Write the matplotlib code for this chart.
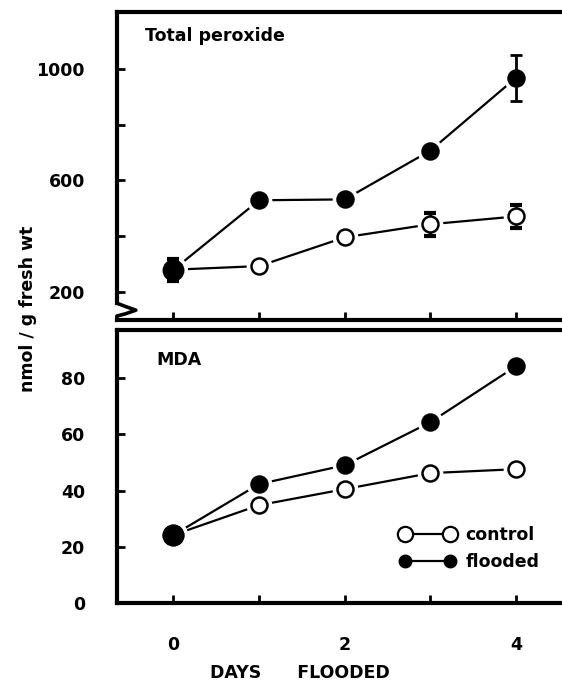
import matplotlib.pyplot as plt
import numpy as np
from matplotlib.lines import Line2D

plt.rcParams['font.family'] = ['DejaVu Sans']
plt.rcParams['font.weight'] = 'bold'

days = [0, 1, 2, 3, 4]

# total peroxide (nmol/g fresh wt)
perox_control = [280, 293, 396, 443, 471]
perox_control_err = [40, 0, 0, 42, 40]
perox_flooded = [280, 529, 532, 707, 968]
perox_flooded_err = [0, 0, 0, 0, 82]

# MDA (nmol/g fresh wt)
mda_control = [24.2, 34.8, 40.5, 46.2, 47.6]
mda_flooded = [24.2, 42.3, 49.0, 64.3, 84.2]

fig = plt.figure(figsize=(5.62, 6.88), dpi=100)
ax1 = fig.add_axes([0.208, 0.535, 0.80, 0.4476])
ax2 = fig.add_axes([0.208, 0.1235, 0.80, 0.3965])

lw_sp = 3.0
fs = 12.5


def style(ax):
    for s in ['left', 'top', 'bottom']:
        ax.spines[s].set_linewidth(lw_sp)
    ax.spines['right'].set_visible(False)
    ax.set_xlim(-0.661, 4.59)
    ax.set_xticks(days)
    ax.tick_params(direction='in', length=6, width=2, labelsize=fs)
    ax.tick_params(axis='y', pad=23)
    ax.tick_params(axis='y', which='minor', direction='in', length=6, width=2)


def draw(ax, x, y, filled, big0=True):
    ax.plot(x, y, '-', color='black', lw=1.6, zorder=2)
    for i, (xi, yi) in enumerate(zip(x, y)):
        ms = 14 if (i == 0 and big0) else 11.5
        ax.plot(xi, yi, 'o', ms=ms + 6, color='white', mec='white', zorder=3)
        ax.plot(xi, yi, 'o', ms=ms, mfc='black' if filled else 'white',
                mec='black', mew=1.8, zorder=5)


style(ax1)
ax1.set_ylim(100, 1204)
ax1.set_yticks([200, 600, 1000])
ax1.set_yticks([400, 800], minor=True)
ax1.tick_params(axis='x', labelbottom=False)
draw(ax1, days, perox_control, False, big0=False)
ax1.errorbar(days, perox_control, yerr=perox_control_err, fmt='none',
             ecolor='black', elinewidth=2, capsize=4, capthick=3, zorder=4)
draw(ax1, days, perox_flooded, True)
ax1.errorbar(days, perox_flooded, yerr=perox_flooded_err, fmt='none',
             ecolor='black', elinewidth=2, capsize=4, capthick=2, zorder=6)
ax1.text(-0.33, 1100, 'Total peroxide', fontsize=fs, fontweight='bold')

# axis break: left spine stops short and bends out to the right
ax1.spines['left'].set_bounds(160, 1204)
ax1.plot([-0.661, -0.56, -0.44, -0.56, -0.661, -0.661],
         [160, 148, 135, 122, 114, 100], color='black', lw=2.6,
         solid_capstyle='round', clip_on=False, zorder=6)

style(ax2)
ax2.set_ylim(0, 97)
ax2.set_yticks([0, 20, 40, 60, 80])
draw(ax2, days, mda_control, False)
draw(ax2, days, mda_flooded, True)
ax2.text(-0.2, 84.5, 'MDA', fontsize=fs, fontweight='bold')

handles = [Line2D([], [], color='black', lw=1.6, marker='o', ms=11,
                  mfc='white', mec='black', mew=1.6),
           Line2D([], [], color='black', lw=1.6, marker='o', ms=9,
                  mfc='black', mec='black')]
ax2.legend(handles, ['control', 'flooded'], numpoints=2, frameon=False,
           loc='lower right', bbox_to_anchor=(0.975, 0.06), fontsize=fs,
           handlelength=3.2, handletextpad=0.6, labelspacing=0.5)

ax2.set_xticklabels([str(d) if d % 2 == 0 else '' for d in days])
ax2.tick_params(axis='x', pad=24)
ax2.set_xlabel('DAYS      FLOODED', fontsize=fs, fontweight='bold')
ax2.xaxis.set_label_coords(0.406, -0.225)

fig.text(0.05, 0.551, 'nmol / g fresh wt', rotation=90, fontsize=fs,
         fontweight='bold', va='center', ha='center')

fig.savefig('out.png', dpi=100)
